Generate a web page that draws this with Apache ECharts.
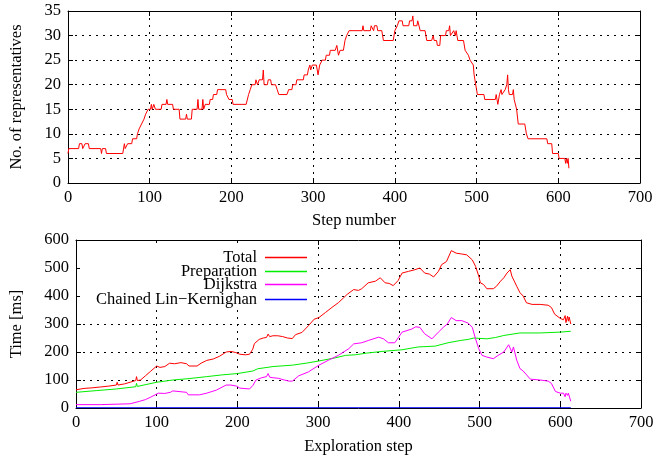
<!DOCTYPE html>
<html>
<head>
<meta charset="utf-8">
<script src="https://cdn.jsdelivr.net/npm/echarts@6/dist/echarts.min.js"></script>
<style>html,body{margin:0;padding:0;background:#fff}#c{width:657px;height:456px}</style>
</head>
<body>
<div id="c"></div>
<script>
// ---- data ----
const xTicks = [0, 100, 200, 300, 400, 500, 600, 700];
const repSteps = [0,1,13,14,17,18,20,21,25,26,40,41,42,46,47,67,69,70,72,73,78,79,84,85,87,90,93,95,98,101,102,103,105,107,114,115,120,121,122,128,129,136,137,144,145,146,151,152,158,159,160,164,165,166,168,173,174,177,178,182,183,193,194,196,197,201,202,218,221,223,225,229,230,232,234,238,239,240,244,245,248,249,254,256,258,268,270,274,275,279,280,288,289,293,294,296,297,299,304,306,308,311,315,316,320,321,327,329,331,333,337,339,341,344,360,361,362,370,371,374,375,378,379,384,386,398,400,403,405,409,410,417,418,421,422,423,427,428,430,431,437,439,445,447,448,451,452,455,456,462,463,466,467,468,470,472,474,475,477,484,486,488,490,492,494,496,497,498,500,501,509,510,523,524,525,526,528,530,531,533,535,537,538,539,540,544,545,546,549,551,559,561,563,586,587,592,593,600,601,608,609,610,611,612,613];
const repValues = [6,7,7,8,8,7,7,8,8,7,7,6,7,7,6,6,8,7,7,8,8,9,9,10,11,12,13,14,15,15,16,15,16,15,15,16,16,17,16,16,15,15,13,13,14,13,13,15,15,17,15,15,17,15,16,16,17,17,18,18,19,19,18,18,17,17,16,16,18,19,20,20,21,20,21,21,23,20,20,21,21,20,20,19,18,18,19,19,20,20,21,21,22,22,23,24,23,24,24,22,24,25,25,26,26,27,27,28,26,27,27,29,30,31,31,32,31,31,32,31,32,32,31,31,29,29,31,32,33,33,32,32,33,33,34,32,32,33,33,31,31,29,29,30,29,29,28,28,30,30,31,31,32,30,30,31,30,31,29,29,27,27,26,25,25,24,22,21,19,18,18,17,17,18,17,16,18,19,18,18,19,20,22,19,18,18,19,17,15,12,12,10,9,9,8,8,6,6,5,5,4,5,4,5,3];

const totalSteps = [0,10,20,30,40,50,51,52,60,67,74,75,76,80,86,92,100,104,110,116,122,130,137,140,150,155,162,170,178,186,192,198,203,210,215,219,221,227,232,236,238,240,244,250,256,262,268,272,280,288,295,301,309,317,325,331,336,344,350,354,362,371,377,383,388,393,399,404,412,420,426,432,438,443,449,453,459,465,471,478,484,491,495,499,501,505,509,517,521,526,530,534,538,540,542,546,550,554,558,565,575,585,589,593,600,604,606,607,609,610,611,613];
const totalValues = [65,70,72,75,78,82,92,82,86,92,98,112,98,100,115,130,150,145,148,160,158,162,158,150,150,160,170,175,185,200,202,198,192,190,192,210,230,245,250,252,264,255,258,258,255,250,248,262,270,294,317,323,341,359,376,392,406,423,420,426,447,453,465,447,445,437,455,482,488,494,500,482,478,468,488,512,523,562,553,550,547,529,506,471,447,441,426,426,435,453,465,482,494,471,476,435,412,400,376,370,370,367,359,335,320,315,330,305,328,310,325,300];

const prepSteps = [0,25,50,51,52,74,75,76,100,120,140,162,180,200,219,225,244,268,285,301,321,334,346,360,379,404,424,445,461,476,486,493,509,520,530,550,575,600,613];
const prepValues = [56,62,68,75,68,76,88,77,92,100,105,112,118,123,132,140,148,153,160,168,179,188,190,196,202,208,218,221,233,241,245,250,247,252,259,268,268,271,274];

const dijSteps = [0,30,67,79,86,92,102,110,117,120,130,137,139,153,162,174,186,192,199,203,215,219,223,230,236,238,240,244,251,258,264,268,276,288,301,313,325,338,344,354,362,375,381,387,395,404,416,421,426,432,441,449,455,460,465,471,478,486,491,495,499,503,509,517,523,530,536,538,540,542,546,550,554,563,575,585,589,594,600,604,606,607,609,610,611,613];
const dijValues = [12,12,15,24,30,38,53,52,56,61,58,56,47,47,53,64,82,82,78,71,68,80,100,108,112,123,110,108,106,100,96,96,115,129,153,171,188,212,229,233,241,253,247,233,233,271,282,290,288,265,247,271,288,300,323,312,312,303,288,247,212,188,182,176,188,200,226,233,200,218,171,141,132,103,100,96,88,59,53,53,40,53,45,53,47,24];

const clkSteps = [0, 613];
const clkValues = [1, 1];

const seriesNames = ['Total', 'Preparation', 'Dijkstra', 'Chained Lin\u2212Kernighan'];
const seriesColors = ['#ff0000', '#00ee00', '#ff00ff', '#0000ff'];

// ---- chart ----
const zip = (a, b) => a.map((v, i) => [v, b[i]]);
const FONT = '"Liberation Serif", "DejaVu Serif", serif';
const FS = 16.5;

function xAx(grid, name, gap) {
  return {
    type: 'value', gridIndex: grid, min: 0, max: 700, interval: 100,
    name: name, nameLocation: 'middle', nameGap: gap,
    nameTextStyle: { fontFamily: FONT, fontSize: FS, color: '#000' },
    axisLine: { show: true, onZero: false, lineStyle: { color: '#000', width: 1 } },
    axisTick: { show: true, inside: true, length: 5, lineStyle: { color: '#000' } },
    axisLabel: { fontFamily: FONT, fontSize: FS, color: '#000', margin: 6 },
    splitLine: { show: true, lineStyle: { color: '#000', type: [2, 5], width: 1 } }
  };
}
function xMirror(grid) {
  return {
    type: 'value', gridIndex: grid, min: 0, max: 700, interval: 100, position: 'top',
    axisLine: { show: true, onZero: false, lineStyle: { color: '#000', width: 1 } },
    axisTick: { show: true, inside: true, length: 5, lineStyle: { color: '#000' } },
    axisLabel: { show: false }, splitLine: { show: false }
  };
}
function yAx(grid, max, interval, name, gap) {
  return {
    type: 'value', gridIndex: grid, min: 0, max: max, interval: interval,
    name: name, nameLocation: 'middle', nameGap: gap, nameRotate: 90,
    nameTextStyle: { fontFamily: FONT, fontSize: FS, color: '#000' },
    axisLine: { show: true, onZero: false, lineStyle: { color: '#000', width: 1 } },
    axisTick: { show: true, inside: true, length: 5, lineStyle: { color: '#000' } },
    axisLabel: { fontFamily: FONT, fontSize: FS, color: '#000', margin: 7 },
    splitLine: { show: true, lineStyle: { color: '#000', type: [2, 5], width: 1 } }
  };
}
function yMirror(grid, max, interval) {
  return {
    type: 'value', gridIndex: grid, min: 0, max: max, interval: interval, position: 'right',
    axisLine: { show: true, onZero: false, lineStyle: { color: '#000', width: 1 } },
    axisTick: { show: true, inside: true, length: 5, lineStyle: { color: '#000' } },
    axisLabel: { show: false }, splitLine: { show: false }
  };
}

const legendRows = [249, 263, 276, 291];
const chart = echarts.init(document.getElementById('c'), null, { renderer: 'canvas' });
chart.setOption({
  animation: false,
  backgroundColor: '#fff',
  grid: [
    { left: 66, right: 17, top: 11, height: 172, containLabel: false },
    { left: 74, right: 16, top: 240, height: 170, containLabel: false }
  ],
  graphic: [{
    type: 'rect', z: 3, silent: true,
    shape: { x: 80, y: 243, width: 231, height: 63 },
    style: { fill: '#fff' }
  }],
  legend: seriesNames.map((n, i) => ({
    data: [n], right: 350, top: legendRows[i], orient: 'horizontal', align: 'right',
    icon: 'rect', itemWidth: 42, itemHeight: 1.5, padding: 0, selectedMode: false, z: 5,
    textStyle: { fontFamily: FONT, fontSize: FS, color: '#000', padding: [0, 3, 0, 0] }
  })),
  xAxis: [xAx(0, 'Step number', 29), xMirror(0), xAx(1, 'Exploration step', 30), xMirror(1)],
  yAxis: [yAx(0, 35, 5, 'No. of representatives', 43), yMirror(0, 35, 5),
          yAx(1, 600, 100, 'Time [ms]', 51), yMirror(1, 600, 100)],
  series: [
    { name: 'reps', type: 'line', xAxisIndex: 0, yAxisIndex: 0, symbol: 'none',
      data: zip(repSteps, repValues), lineStyle: { color: '#ff0000', width: 1 }, itemStyle: { color: '#ff0000' } },
    { name: seriesNames[0], type: 'line', xAxisIndex: 2, yAxisIndex: 2, symbol: 'none',
      data: zip(totalSteps, totalValues), lineStyle: { color: seriesColors[0], width: 1 }, itemStyle: { color: seriesColors[0] } },
    { name: seriesNames[1], type: 'line', xAxisIndex: 2, yAxisIndex: 2, symbol: 'none',
      data: zip(prepSteps, prepValues), lineStyle: { color: seriesColors[1], width: 1 }, itemStyle: { color: seriesColors[1] } },
    { name: seriesNames[2], type: 'line', xAxisIndex: 2, yAxisIndex: 2, symbol: 'none',
      data: zip(dijSteps, dijValues), lineStyle: { color: seriesColors[2], width: 1 }, itemStyle: { color: seriesColors[2] } },
    { name: seriesNames[3], type: 'line', xAxisIndex: 2, yAxisIndex: 2, symbol: 'none',
      data: zip(clkSteps, clkValues), lineStyle: { color: seriesColors[3], width: 1 }, itemStyle: { color: seriesColors[3] } }
  ]
});
</script>
</body>
</html>
